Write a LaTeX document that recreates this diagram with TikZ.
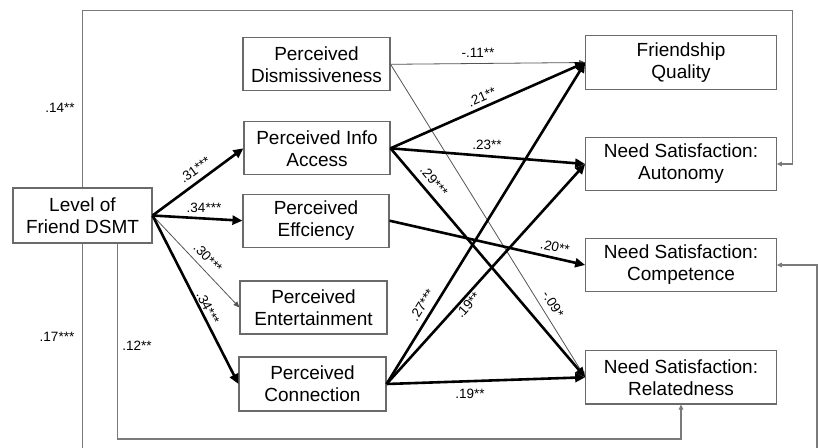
\documentclass[tikz,border=0pt]{standalone}
\usepackage{fontspec}
\setmainfont{Liberation Sans}
\usetikzlibrary{arrows.meta}
\definecolor{boxgray}{HTML}{6A6A6A}
\definecolor{framegray}{HTML}{7A7A7A}
\definecolor{thingray}{HTML}{555555}
\begin{document}
\begin{tikzpicture}[x=1pt,y=-1pt,
  box/.style={draw=boxgray, line width=1.1pt, align=center,
    font=\fontsize{19}{22}\selectfont, inner sep=0pt},
  lab/.style={font=\fontsize{13.5}{16}\selectfont, inner sep=0pt},
  thick arrow/.style={line width=2.6pt, -{Triangle[length=10pt,width=9pt]}},
  thin arrow/.style={draw=thingray, line width=0.8pt, -{Triangle[length=6pt,width=5pt]}},
  frame/.style={draw=framegray, line width=1.2pt, -{Triangle[length=5pt,width=4.5pt]}}
]
\useasboundingbox[fill=white] (0,0) rectangle (819,447);

% boxes
\node[box, minimum width=139pt, minimum height=55pt] (lvl) at (82.5,215.5) {Level of\\Friend DSMT};
\node[box, minimum width=147pt, minimum height=53pt] (dis) at (316.5,64.3) {Perceived\\Dismissiveness};
\node[box, minimum width=146pt, minimum height=53pt] (info) at (317,148.3) {Perceived Info\\Access};
\node[box, minimum width=146pt, minimum height=53pt] (eff) at (316,220.7) {Perceived\\Effciency};
\node[box, minimum width=147pt, minimum height=53pt] (ent) at (313.5,307.5) {Perceived\\Entertainment};
\node[box, minimum width=147pt, minimum height=54pt] (con) at (312.5,384) {Perceived\\Connection};
\node[box, minimum width=190.6pt, minimum height=53.6pt] (fq) at (681,62.5) {Friendship\\Quality};
\node[box, minimum width=190.6pt, minimum height=53pt] (aut) at (681,164) {Need Satisfaction:\\Autonomy};
\node[box, minimum width=190.6pt, minimum height=53.4pt] (comp) at (681,265) {Need Satisfaction:\\Competence};
\node[box, minimum width=190.6pt, minimum height=53.3pt] (rel) at (681,377.3) {Need Satisfaction:\\Relatedness};

% frame (direct-effect) paths
\coordinate (t14) at (792.3,10.7);
\coordinate (b17) at (817,452);
\coordinate (b12) at (117.3,439);
\draw[frame] (lvl.north) |- (t14) |- (aut.east);
\draw[frame] (lvl.south) |- (b17) |- (comp.east);
\draw[frame] (lvl.south -| b12) -- (b12) -| (rel.south);

% thin paths
\draw[thin arrow] (dis.east) -- (fq.west);
\draw[thin arrow] (dis.east) -- (rel.west);
\draw[thin arrow] (lvl.east) -- (ent.west);

% thick paths
\draw[thick arrow] (lvl.east) -- (info.west);
\draw[thick arrow] (lvl.east) -- (eff.west);
\draw[thick arrow] (lvl.east) -- (con.west);
\draw[thick arrow] (info.east) -- (fq.west);
\draw[thick arrow] (info.east) -- (aut.west);
\draw[thick arrow] (info.east) -- (rel.west);
\draw[thick arrow] (eff.east) -- (comp.west);
\draw[thick arrow] (con.east) -- (fq.west);
\draw[thick arrow] (con.east) -- (aut.west);
\draw[thick arrow] (con.east) -- (rel.west);

% labels
\node[lab] (l14) at (60,108) {.14**};
\node[lab] (l17) at (57,337) {.17***};
\node[lab] (l12) at (137,346) {.12**};
\node[lab, rotate=36] (l31) at (195,170) {.31***};
\node[lab] (l34a) at (204,207.5) {.34***};
\node[lab, rotate=-46] (l30) at (208,258) {.30***};
\node[lab, rotate=-63] (l34b) at (208,308) {.34***};
\node[lab] (l11) at (478,53) {-.11**};
\node[lab, rotate=23.6] (l21) at (482,97) {.21**};
\node[lab] (l23) at (487,145) {.23**};
\node[lab, rotate=-49.5] (l29) at (434,181) {.29***};
\node[lab, rotate=-12.7] (l20) at (555,247) {.20**};
\node[lab, rotate=-58] (l09) at (553,304) {-.09*};
\node[lab, rotate=58.2] (l27) at (422,305) {.27***};
\node[lab, rotate=47.8] (l19a) at (468,305) {.19**};
\node[lab] (l19b) at (470,394) {.19**};
\end{tikzpicture}
\end{document}
